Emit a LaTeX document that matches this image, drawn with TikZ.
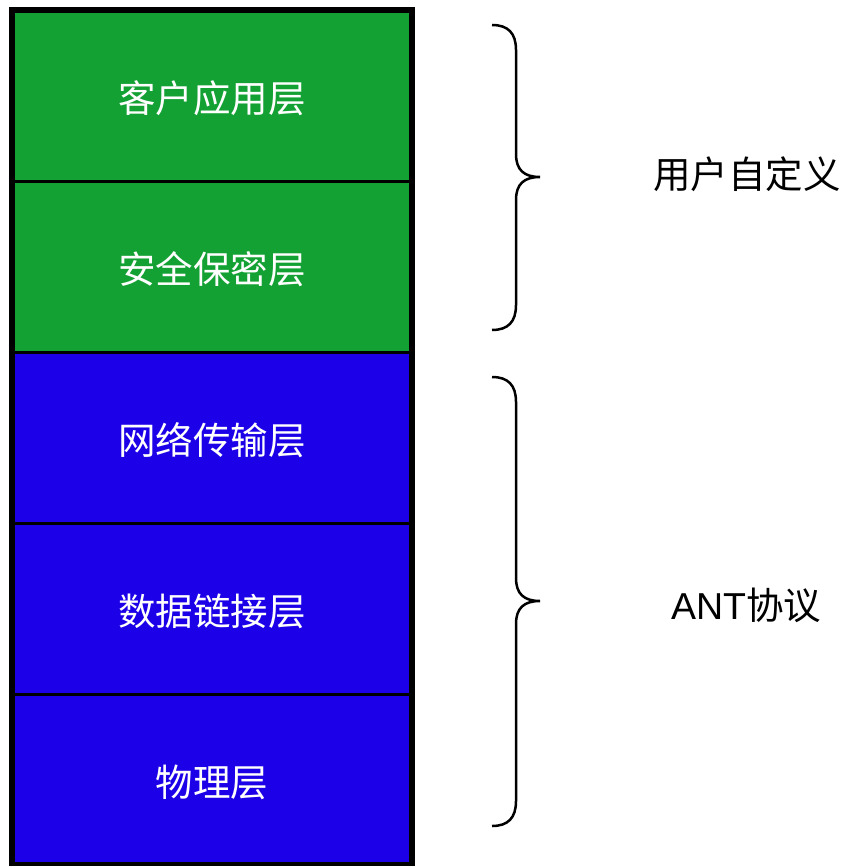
\documentclass[tikz,border=0pt]{standalone}
\usepackage{fontspec}
\setmainfont{Liberation Sans}
\newfontfamily\cjk{Noto Sans CJK SC}
\definecolor{lgreen}{RGB}{19,161,51}
\definecolor{lblue}{RGB}{28,0,232}
\begin{document}
\begin{tikzpicture}[x=1pt,y=-1pt,
  layer/.style={draw=black,line width=3pt,minimum width=400pt,minimum height=171pt,
    inner sep=0pt,outer sep=0pt},
  layertext/.style={inner sep=0pt,text=white,font=\cjk\fontsize{37.5}{40}\selectfont},
  side/.style={inner sep=0pt,text=black,font=\fontsize{37.5}{40}\selectfont},
  bracestroke/.style={draw=black,line width=2.5pt}]
\useasboundingbox (0,0) rectangle (846,866);
\node[layer,fill=lgreen] (l1) at (212,95.75) {};
\node[layer,fill=lgreen] (l2) at (212,266.75) {};
\node[layer,fill=lblue] (l3) at (212,437.75) {};
\node[layer,fill=lblue] (l4) at (212,608.75) {};
\node[layer,fill=lblue] (l5) at (212,779.75) {};
\node[layertext] (x1) at ([yshift=-2.5pt]l1.center) {客户应用层};
\node[layertext] (x2) at ([yshift=-2.5pt]l2.center) {安全保密层};
\node[layertext] (x3) at ([yshift=-2.5pt]l3.center) {网络传输层};
\node[layertext] (x4) at ([yshift=-2.5pt]l4.center) {数据链接层};
\node[layertext] (x5) at ([yshift=-2.5pt]l5.center) {物理层};
\draw[line width=6pt] (l1.north west) rectangle (l5.south east);
% braces
\coordinate (b1t) at (492,25);
\coordinate (b1m) at (540,177);
\coordinate (b1b) at (492,330);
\draw[bracestroke] (b1t) .. controls (508,25) and (516,33) .. (516,50) -- (516,154)
  .. controls (516,170) and (524,177) .. (b1m)
  .. controls (524,177) and (516,184) .. (516,200) -- (516,305)
  .. controls (516,322) and (508,330) .. (b1b);
\coordinate (b2t) at (492,377);
\coordinate (b2m) at (540,601);
\coordinate (b2b) at (492,826);
\draw[bracestroke] (b2t) .. controls (508,377) and (516,385) .. (516,402) -- (516,578)
  .. controls (516,594) and (524,601) .. (b2m)
  .. controls (524,601) and (516,608) .. (516,624) -- (516,801)
  .. controls (516,818) and (508,826) .. (b2b);
\node[side] (t1) at (747,174) {\cjk 用户自定义};
\node[side] (t2) at (746,605) {ANT\cjk 协议};
\end{tikzpicture}
\end{document}
